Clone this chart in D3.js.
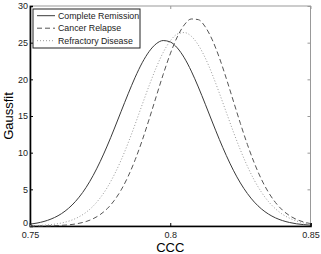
<!DOCTYPE html>
<meta charset="utf-8">
<script src="https://d3js.org/d3.v7.min.js"></script>
<style>
  body { margin: 0; background: #fff; }
  text { font-family: "Liberation Sans", Arial, sans-serif; }
</style>
<div id="my_dataviz"></div>
<script>

// CCC values where the curves were read
var ccc = [0.750, 0.7525, 0.755, 0.7575, 0.760, 0.7625, 0.765, 0.7675, 0.770, 0.7725,
           0.775, 0.7775, 0.780, 0.7825, 0.785, 0.7875, 0.790, 0.7925, 0.795, 0.7975,
           0.800, 0.8025, 0.805, 0.8075, 0.810, 0.8125, 0.815, 0.8175, 0.820, 0.8225,
           0.825, 0.8275, 0.830, 0.8325, 0.835, 0.8375, 0.840, 0.8425, 0.845, 0.8475, 0.850];

// Gaussfit values, one list per group
var completeRemission = [0.25, 0.40, 0.62, 0.95, 1.40, 2.03, 2.86, 3.93, 5.26, 6.88,
                         8.77, 10.90, 13.22, 15.64, 18.03, 20.29, 22.26, 23.81, 24.85, 25.29,
                         25.10, 24.29, 22.94, 21.12, 18.96, 16.60, 14.18, 11.81, 9.60, 7.60,
                         5.87, 4.43, 3.25, 2.33, 1.63, 1.11, 0.74, 0.48, 0.30, 0.19, 0.11];
var cancerRelapse = [0.004, 0.008, 0.017, 0.034, 0.064, 0.12, 0.21, 0.37, 0.61, 0.99,
                     1.55, 2.35, 3.46, 4.92, 6.78, 9.04, 11.67, 14.59, 17.66, 20.69,
                     23.47, 25.78, 27.42, 28.23, 28.14, 27.15, 25.37, 22.95, 20.10, 17.04,
                     13.99, 11.12, 8.56, 6.37, 4.60, 3.21, 2.17, 1.42, 0.90, 0.55, 0.33];
var refractoryDisease = [0.036, 0.065, 0.11, 0.19, 0.32, 0.52, 0.82, 1.26, 1.87, 2.71,
                         3.82, 5.22, 6.96, 9.00, 11.34, 13.89, 16.55, 19.17, 21.60, 23.68,
                         25.24, 26.17, 26.38, 25.88, 24.68, 22.90, 20.66, 18.13, 15.48, 12.85,
                         10.38, 8.15, 6.22, 4.62, 3.34, 2.35, 1.60, 1.07, 0.69, 0.43, 0.26];

var seriesNames = ["Complete Remission", "Cancer Relapse", "Refractory Disease"];
var xTicks = [0.75, 0.8, 0.85];
var yTicks = [0, 5, 10, 15, 20, 25, 30];

var margin = {top: 6, right: 10.5, bottom: 28, left: 30},
    width = 321 - margin.left - margin.right,
    height = 254 - margin.top - margin.bottom;

var svg = d3.select("#my_dataviz")
  .append("svg")
    .attr("width", 321)
    .attr("height", 254)
  .append("g")
    .attr("transform", "translate(" + margin.left + "," + margin.top + ")");

var x = d3.scaleLinear().domain([0.75, 0.85]).range([0, width]);
var y = d3.scaleLinear().domain([0, 30]).range([height, 0]);

// box: top and right grey
svg.append("rect")
  .attr("x", 0).attr("y", 0)
  .attr("width", width).attr("height", height)
  .style("fill", "none")
  .style("stroke", "#999")
  .style("stroke-width", 1);

// ticks on top and right (inward)
svg.append("g")
  .call(d3.axisBottom(x).tickValues(xTicks).tickSize(3).tickFormat(""))
  .call(function(g) { g.select(".domain").remove(); })
  .selectAll("line").style("stroke", "#999");
svg.append("g")
  .attr("transform", "translate(" + width + ",0)")
  .call(d3.axisRight(y).tickValues(yTicks).tickSize(-3).tickFormat(""))
  .call(function(g) { g.select(".domain").remove(); })
  .selectAll("line").style("stroke", "#999");

// bottom axis
var xAxis = svg.append("g")
  .attr("transform", "translate(0," + height + ")")
  .call(d3.axisBottom(x).tickValues(xTicks).tickSize(-3).tickPadding(6).tickFormat(d3.format("")));
xAxis.select(".domain").style("stroke", "#000").style("stroke-width", 1.6);
xAxis.selectAll("text").style("font-size", "9px").style("fill", "#222")
  .attr("font-family", "Liberation Sans, Arial, sans-serif");

// left axis
var yAxis = svg.append("g")
  .call(d3.axisLeft(y).tickValues(yTicks).tickSize(-3).tickPadding(2));
yAxis.select(".domain").style("stroke", "#000").style("stroke-width", 1.6);
yAxis.selectAll("text").style("font-size", "9px").style("fill", "#222")
  .attr("font-family", "Liberation Sans, Arial, sans-serif");
yAxis.selectAll(".tick").filter(function(d) { return d === 0; })
  .select("text").attr("dy", "-0.05em");

// axis labels
svg.append("text")
  .attr("x", width / 2)
  .attr("y", height + 26)
  .style("text-anchor", "middle")
  .style("font-size", "13px")
  .text("CCC");

svg.append("text")
  .attr("transform", "rotate(-90)")
  .attr("x", -height / 2)
  .attr("y", -margin.left + 13)
  .style("text-anchor", "middle")
  .style("font-size", "13px")
  .text("Gaussfit");

// curves
var series = [
  {name: seriesNames[0], values: completeRemission, color: "#3a3a3a", dash: null},
  {name: seriesNames[1], values: cancerRelapse, color: "#555", dash: "5,3"},
  {name: seriesNames[2], values: refractoryDisease, color: "#999", dash: "1,2"}
];

var line = d3.line()
  .x(function(d) { return x(d[0]); })
  .y(function(d) { return y(d[1]); })
  .curve(d3.curveMonotoneX);

series.forEach(function(s) {
  svg.append("path")
    .datum(d3.zip(ccc, s.values))
    .attr("d", line)
    .style("fill", "none")
    .style("stroke", s.color)
    .style("stroke-width", 1)
    .style("stroke-dasharray", s.dash);
});

// legend
var legend = svg.append("g").attr("transform", "translate(3,3)");
legend.append("rect")
  .attr("x", 0).attr("y", 0).attr("width", 107).attr("height", 39)
  .style("fill", "#fff").style("stroke", "#222").style("stroke-width", 1);
series.forEach(function(s, i) {
  var yy = 6.7 + i * 12.5;
  legend.append("line")
    .attr("x1", 4).attr("x2", 22).attr("y1", yy).attr("y2", yy)
    .style("stroke", s.color).style("stroke-width", 1)
    .style("stroke-dasharray", s.dash);
  legend.append("text")
    .attr("x", 25).attr("y", yy)
    .attr("dy", "0.35em")
    .style("font-size", "8.8px")
    .style("fill", "#222")
    .text(s.name);
});

</script>
